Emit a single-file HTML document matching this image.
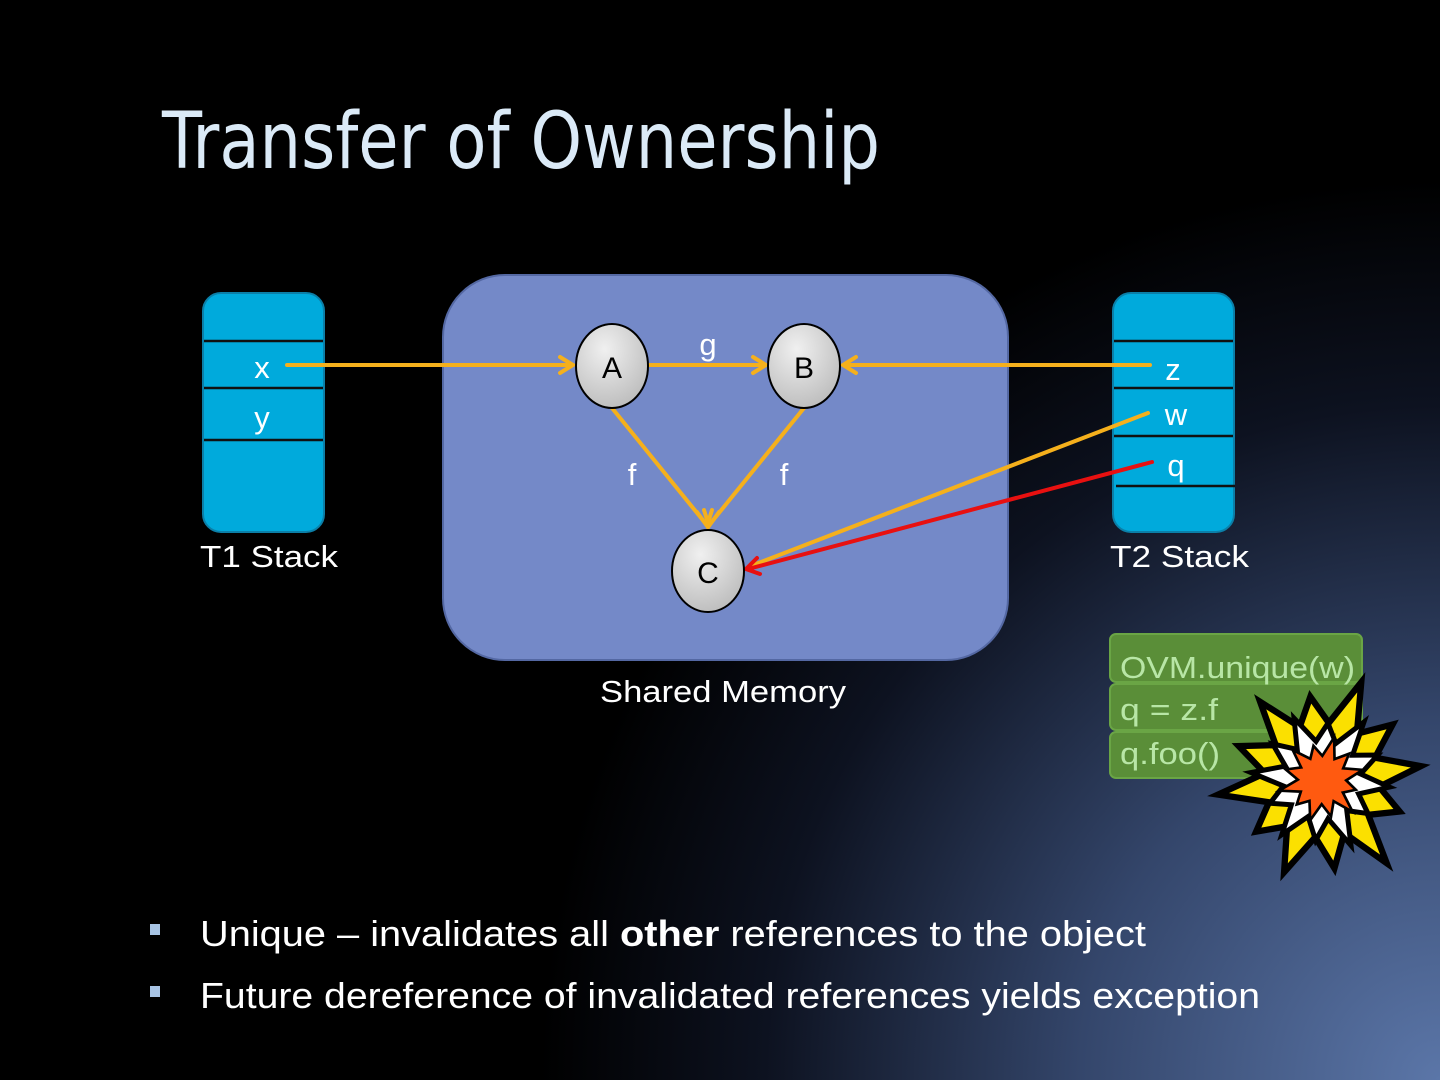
<!DOCTYPE html>
<html><head><meta charset="utf-8"><style>
html,body{margin:0;padding:0;}
body{width:1440px;height:1080px;overflow:hidden;background:#000;}
svg{display:block;}
</style></head><body>
<svg width="1440" height="1080" viewBox="0 0 1440 1080" xmlns="http://www.w3.org/2000/svg">
<defs>
<radialGradient id="bg" cx="1440" cy="1080" r="900" gradientUnits="userSpaceOnUse">
<stop offset="0" stop-color="#5b76a8"/>
<stop offset="0.4" stop-color="#34466b"/>
<stop offset="0.75" stop-color="#0d1220"/>
<stop offset="1" stop-color="#000"/>
</radialGradient>
<radialGradient id="node" cx="0.4" cy="0.3" r="0.8">
<stop offset="0" stop-color="#f0f0f0"/>
<stop offset="1" stop-color="#b8b8b8"/>
</radialGradient>
<g id="star"><polygon points="95,0 53,14 69,40 39,39 50,87 14,53 0,85 -14,53 -48,82 -39,39 -69,40 -53,14 -100,0 -53,-14 -74,-43 -39,-39 -48,-82 -14,-53 0,-80 14,-53 50,-87 39,-39 74,-43 53,-14"/></g>
</defs>
<rect width="1440" height="1080" fill="url(#bg)"/>
<text x="162" y="168" font-family="'DejaVu Sans','Liberation Sans',sans-serif" font-size="78" fill="#dbeaf7" textLength="718" lengthAdjust="spacingAndGlyphs">Transfer of Ownership</text>

<rect x="443" y="275" width="565" height="385" rx="62" fill="#7489c8" stroke="#5468a3" stroke-width="2"/>
<text x="600" y="702" font-family="'Liberation Sans',sans-serif" font-size="31" fill="#fff" textLength="246" lengthAdjust="spacingAndGlyphs">Shared Memory</text>

<rect x="203" y="293" width="121" height="239" rx="18" fill="#00aadc" stroke="#0b7fa8" stroke-width="2"/>
<g stroke="#111" stroke-width="2.5"><line x1="204" y1="341" x2="323" y2="341"/><line x1="204" y1="388" x2="323" y2="388"/><line x1="204" y1="440" x2="323" y2="440"/></g>
<g font-family="'Liberation Sans',sans-serif" font-size="31" fill="#fff" text-anchor="middle"><text x="262" y="378">x</text><text x="262" y="428">y</text></g>
<text x="200" y="567" font-family="'Liberation Sans',sans-serif" font-size="31" fill="#fff" textLength="138" lengthAdjust="spacingAndGlyphs">T1 Stack</text>

<rect x="1113" y="293" width="121" height="239" rx="18" fill="#00aadc" stroke="#0b7fa8" stroke-width="2"/>
<g stroke="#111" stroke-width="2.5"><line x1="1114" y1="341" x2="1233" y2="341"/><line x1="1114" y1="388" x2="1233" y2="388"/><line x1="1114" y1="436" x2="1233" y2="436"/><line x1="1116" y1="486" x2="1235" y2="486"/></g>
<g font-family="'Liberation Sans',sans-serif" font-size="31" fill="#fff" text-anchor="middle"><text x="1173" y="380">z</text><text x="1176" y="425">w</text><text x="1176" y="476">q</text></g>
<text x="1110" y="567" font-family="'Liberation Sans',sans-serif" font-size="31" fill="#fff" textLength="139" lengthAdjust="spacingAndGlyphs">T2 Stack</text>

<g stroke="#f5b01c" stroke-width="4" fill="none" stroke-linecap="round">
<line x1="287" y1="365" x2="572" y2="365"/><polyline points="560,357 573,365 560,373"/>
<line x1="648" y1="365" x2="765" y2="365"/><polyline points="753,357 766,365 753,373"/>
<line x1="1150" y1="365" x2="844" y2="365"/><polyline points="856,357 843,365 856,373"/>
<line x1="612" y1="408" x2="706" y2="524"/><polyline points="697,512 707,526 712,510"/>
<line x1="804" y1="408" x2="710" y2="524"/><polyline points="704,510 709,526 719,512"/>
<line x1="1148" y1="413" x2="748" y2="567"/>
</g>
<g stroke="#e81010" stroke-width="4" fill="none" stroke-linecap="round">
<line x1="1152" y1="462" x2="748" y2="569"/><polyline points="757,558 746,569 760,574"/>
</g>
<g font-family="'Liberation Sans',sans-serif" font-size="31" fill="#fff" text-anchor="middle"><text x="708" y="355">g</text><text x="632" y="485">f</text><text x="784" y="485">f</text></g>

<g stroke="#000" stroke-width="2" fill="url(#node)">
<ellipse cx="612" cy="366" rx="36" ry="42"/><ellipse cx="804" cy="366" rx="36" ry="42"/><ellipse cx="708" cy="571" rx="36" ry="41"/>
</g>
<g font-family="'Liberation Sans',sans-serif" font-size="30" fill="#000" text-anchor="middle"><text x="612" y="378">A</text><text x="804" y="378">B</text><text x="708" y="583">C</text></g>

<g fill="#5a8e38" stroke="#6aa545" stroke-width="2">
<rect x="1110" y="634" width="252" height="48" rx="6"/>
<rect x="1110" y="684" width="252" height="46" rx="6"/>
<rect x="1110" y="732" width="252" height="46" rx="6"/>
</g>
<g font-family="'Liberation Sans',sans-serif" font-size="31" fill="#b8e6a6">
<text x="1120" y="678" textLength="235" lengthAdjust="spacingAndGlyphs">OVM.unique(w)</text>
<text x="1120" y="720" textLength="98" lengthAdjust="spacingAndGlyphs">q = z.f</text>
<text x="1120" y="764" textLength="100" lengthAdjust="spacingAndGlyphs">q.foo()</text>
</g>

<g transform="translate(1322,780) rotate(-8) scale(1.05)" stroke-linejoin="miter">
<use href="#star" fill="#fbe000" stroke="#000" stroke-width="6"/>
<g transform="scale(0.68) rotate(14)"><use href="#star" fill="#fff" stroke="#000" stroke-width="7"/></g>
<g transform="scale(0.42) rotate(-6)"><use href="#star" fill="#ff5a10" stroke="#000" stroke-width="6"/></g>
</g>

<rect x="150" y="924" width="10" height="11" fill="#a8c4e4"/>
<rect x="150" y="986" width="10" height="11" fill="#a8c4e4"/>
<g font-family="'Liberation Sans',sans-serif" font-size="36" fill="#fff">
<text x="200" y="946" textLength="946" lengthAdjust="spacingAndGlyphs">Unique – invalidates all <tspan font-weight="bold">other</tspan> references to the object</text>
<text x="200" y="1008" textLength="1060" lengthAdjust="spacingAndGlyphs">Future dereference of invalidated references yields exception</text>
</g>
</svg>
</body></html>
